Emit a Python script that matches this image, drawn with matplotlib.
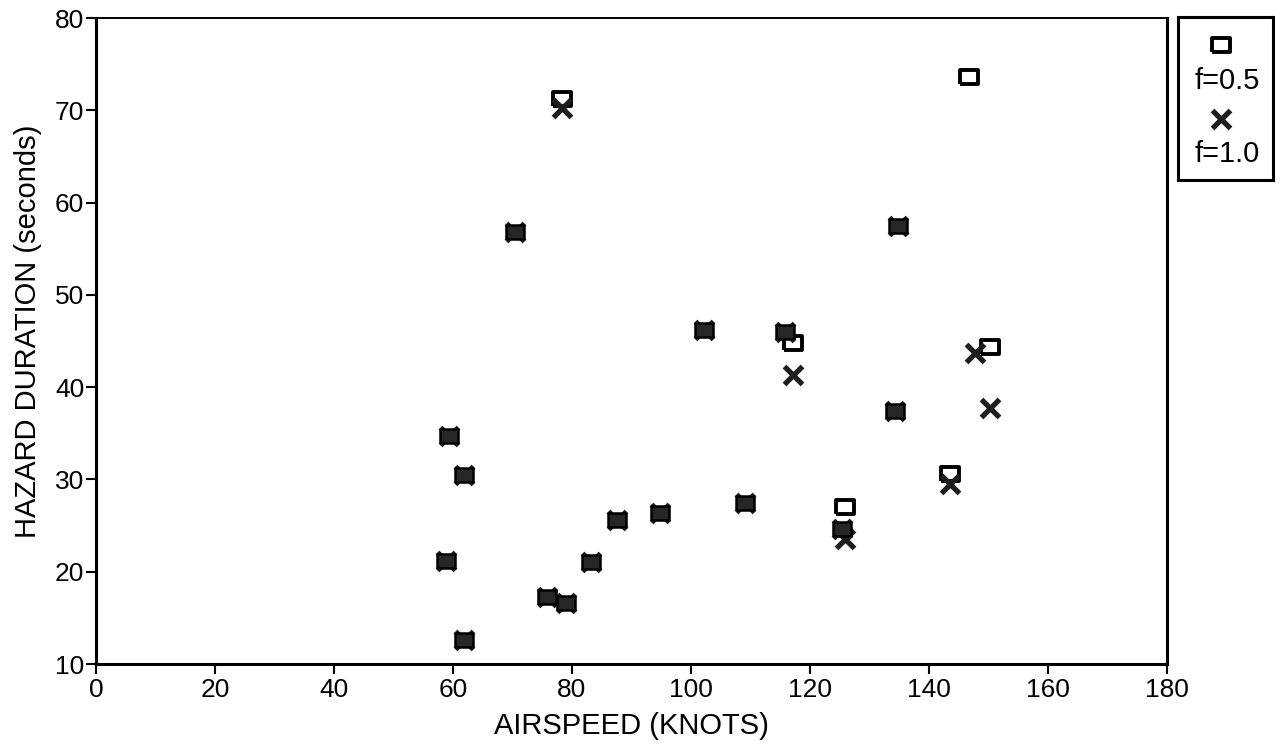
import matplotlib
matplotlib.use("Agg")
import matplotlib.pyplot as plt
import numpy as np

# ---- data ----
f05_airspeed = [59.3, 61.8, 58.9, 61.8, 70.5, 75.8, 79.0, 78.3, 83.2, 87.6, 94.8,
                102.2, 109.1, 115.8, 117.1, 125.4, 125.9, 134.3, 134.8, 143.5,
                146.7, 150.3]
f05_duration = [34.7, 30.5, 21.2, 12.6, 56.8, 17.3, 16.6, 71.2, 21.0, 25.6, 26.4,
                46.2, 27.4, 46.0, 44.8, 24.6, 27.0, 37.4, 57.5, 30.6,
                73.6, 44.3]
f10_airspeed = [59.3, 61.8, 58.9, 61.8, 70.5, 75.8, 79.0, 78.3, 83.2, 87.6, 94.8,
                102.2, 109.1, 115.8, 117.1, 125.4, 125.9, 134.3, 134.8, 143.5,
                147.7, 150.3]
f10_duration = [34.7, 30.5, 21.2, 12.6, 56.8, 17.3, 16.6, 70.3, 21.0, 25.6, 26.4,
                46.2, 27.4, 46.0, 41.3, 24.6, 23.5, 37.4, 57.5, 29.5,
                43.7, 37.7]
series_labels = ["f=0.5", "f=1.0"]
x_ticks = [0, 20, 40, 60, 80, 100, 120, 140, 160, 180]
y_ticks = [10, 20, 30, 40, 50, 60, 70, 80]

plt.rcParams['font.family'] = ['Liberation Sans', 'DejaVu Sans']

W, H = 1281, 750
fig = plt.figure(figsize=(W / 100, H / 100), dpi=100)
ax = fig.add_axes([96 / W, 1 - 664 / H, (1167 - 96) / W, (664 - 18) / H])

# wide rectangle marker
rect_marker = [(-1.35, -1), (1.35, -1), (1.35, 1), (-1.35, 1), (-1.35, -1)]

a05 = np.array(list(zip(f05_airspeed, f05_duration)))
a10 = np.array(list(zip(f10_airspeed, f10_duration)))
same = np.array([any(np.allclose(p, q) for q in a10) for p in a05])

# open squares (f=0.5) where not coincident
ax.plot(a05[~same, 0], a05[~same, 1], linestyle='none', marker=rect_marker,
        markersize=13.5, markerfacecolor='white', markeredgecolor='black',
        markeredgewidth=2.8, zorder=3)
# crosses (f=1.0)
ax.plot(a10[:, 0], a10[:, 1], linestyle='none', marker='x', markersize=12.5,
        markeredgecolor='#1e1e1e', markeredgewidth=3.8, zorder=4)
# coincident points render as dark filled blocks
ax.plot(a05[same, 0], a05[same, 1], linestyle='none', marker=rect_marker,
        markersize=13.5, markerfacecolor='#262626', markeredgecolor='black',
        markeredgewidth=1.8, zorder=5)

ax.set_xlim(0, 180)
ax.set_ylim(10, 80)
ax.set_xticks(x_ticks)
ax.set_yticks(y_ticks)
ax.tick_params(axis='both', direction='out', length=7, width=1.5, labelsize=19,
               colors='black')
ax.tick_params(axis='x', pad=3)
ax.tick_params(axis='y', pad=1.5)
for side, s in ax.spines.items():
    s.set_color('black')
    s.set_linewidth(1.4 if side == 'top' else 2.2)

ax.set_xlabel("AIRSPEED (KNOTS)", fontsize=21)
ax.xaxis.set_label_coords(0.5, -0.075)
ax.set_ylabel("HAZARD DURATION (seconds)", fontsize=21)
ax.yaxis.set_label_coords(-0.050, 0.515)

# legend box outside the axes, markers stacked above labels
lax = fig.add_axes([1178 / W, 1 - 180 / H, (1273 - 1178) / W, (180 - 17) / H])
lax.set_xlim(0, 1)
lax.set_ylim(0, 1)
lax.set_xticks([])
lax.set_yticks([])
for s in lax.spines.values():
    s.set_linewidth(2.2)
    s.set_color('black')
lax.plot([0.45], [0.83], linestyle='none', marker=rect_marker, markersize=13.5,
         markerfacecolor='white', markeredgecolor='black', markeredgewidth=2.8)
lax.text(0.52, 0.61, series_labels[0], ha='center', va='center', fontsize=21)
lax.plot([0.45], [0.375], linestyle='none', marker='x', markersize=12.5,
         markeredgecolor='#1e1e1e', markeredgewidth=3.8)
lax.text(0.52, 0.16, series_labels[1], ha='center', va='center', fontsize=21)

fig.savefig("out.png", dpi=100)
